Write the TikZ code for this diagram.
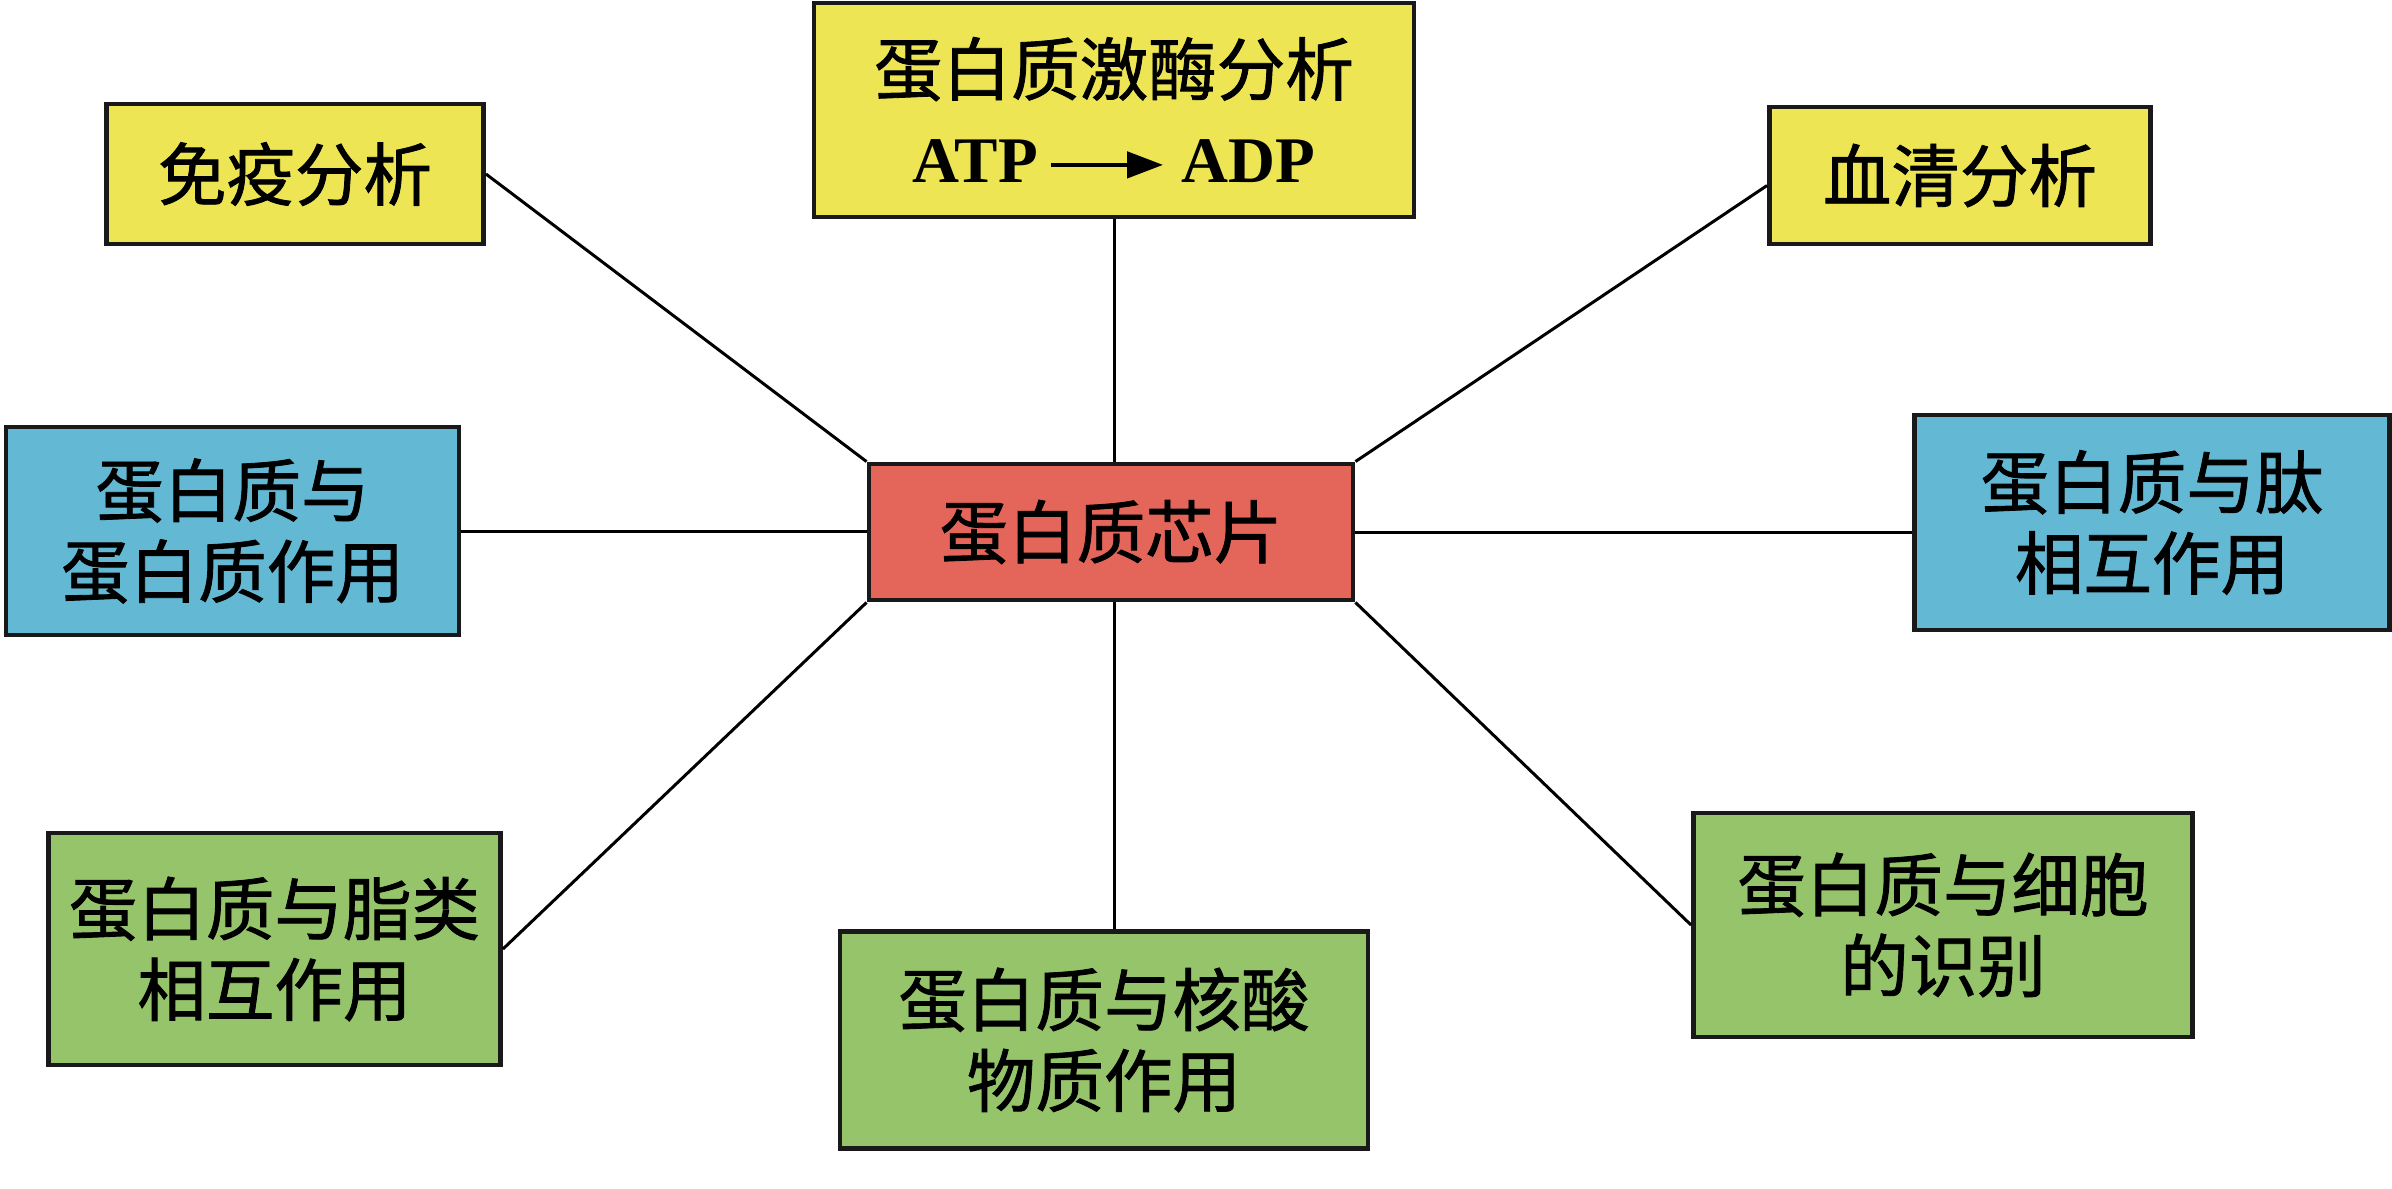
\documentclass[tikz,border=0pt]{standalone}
\usepackage{fontspec}
\newfontfamily\cjk{Noto Sans CJK SC}[FakeBold=1.2]
\newfontfamily\latinb{Liberation Serif Bold}
\usetikzlibrary{arrows.meta}
\definecolor{ybox}{HTML}{EDE553}
\definecolor{bbox}{HTML}{63B8D4}
\definecolor{gbox}{HTML}{95C46B}
\definecolor{rbox}{HTML}{E4665A}
\tikzset{
  card/.style={draw=black!90, line width=1.4pt, inner sep=0pt, align=center,
    font=\cjk\fontsize{19.5}{23}\selectfont},
  ycard/.style={card, fill=ybox},
  bcard/.style={card, fill=bbox},
  gcard/.style={card, fill=gbox},
  rcard/.style={card, fill=rbox},
  link/.style={line width=0.85pt, black}
}
\begin{document}
\begin{tikzpicture}
\useasboundingbox (0,0) rectangle (23.92,-11.88);
\node[rcard, minimum width=4.84cm, minimum height=1.36cm] (chip) at (11.11,-5.32) {蛋白质芯片};
\node[ycard, minimum width=6.00cm, minimum height=2.14cm] (kin) at (11.14,-1.10)
  {蛋白质激酶分析\\[2pt]{\latinb\fontsize{18.5}{22}\selectfont ATP\,\tikz[baseline=-0.6ex]\draw[line width=1.3pt,-{Triangle[length=3.6mm,width=2.6mm]}] (0,0)--(1.12,0);\ ADP}};
\node[ycard, minimum width=3.77cm, minimum height=1.40cm] (imm) at (2.95,-1.74) {免疫分析};
\node[ycard, minimum width=3.81cm, minimum height=1.37cm] (ser) at (19.60,-1.755) {血清分析};
\node[bcard, minimum width=4.53cm, minimum height=2.08cm] (pp) at (2.325,-5.31) {蛋白质与\\蛋白质作用};
\node[bcard, minimum width=4.75cm, minimum height=2.15cm] (pep) at (21.52,-5.225) {蛋白质与肽\\相互作用};
\node[gcard, minimum width=4.52cm, minimum height=2.32cm] (lip) at (2.745,-9.49) {蛋白质与脂类\\相互作用};
\node[gcard, minimum width=5.28cm, minimum height=2.17cm] (nuc) at (11.04,-10.40) {蛋白质与核酸\\物质作用};
\node[gcard, minimum width=4.99cm, minimum height=2.24cm] (cell) at (19.43,-9.25) {蛋白质与细胞\\的识别};
\draw[link] (kin.south) -- (kin.south |- chip.north);
\draw[link] (imm.east) -- (chip.north west);
\draw[link] ([yshift=-1mm]ser.west) -- (chip.north east);
\draw[link] (pp.east) -- (pp.east -| chip.west);
\draw[link] (chip.east) -- (chip.east -| pep.west);
\draw[link] (lip.east) -- (chip.south west);
\draw[link] (kin.south |- chip.south) -- (kin.south |- nuc.north);
\draw[link] (cell.west) -- (chip.south east);
\end{tikzpicture}
\end{document}
